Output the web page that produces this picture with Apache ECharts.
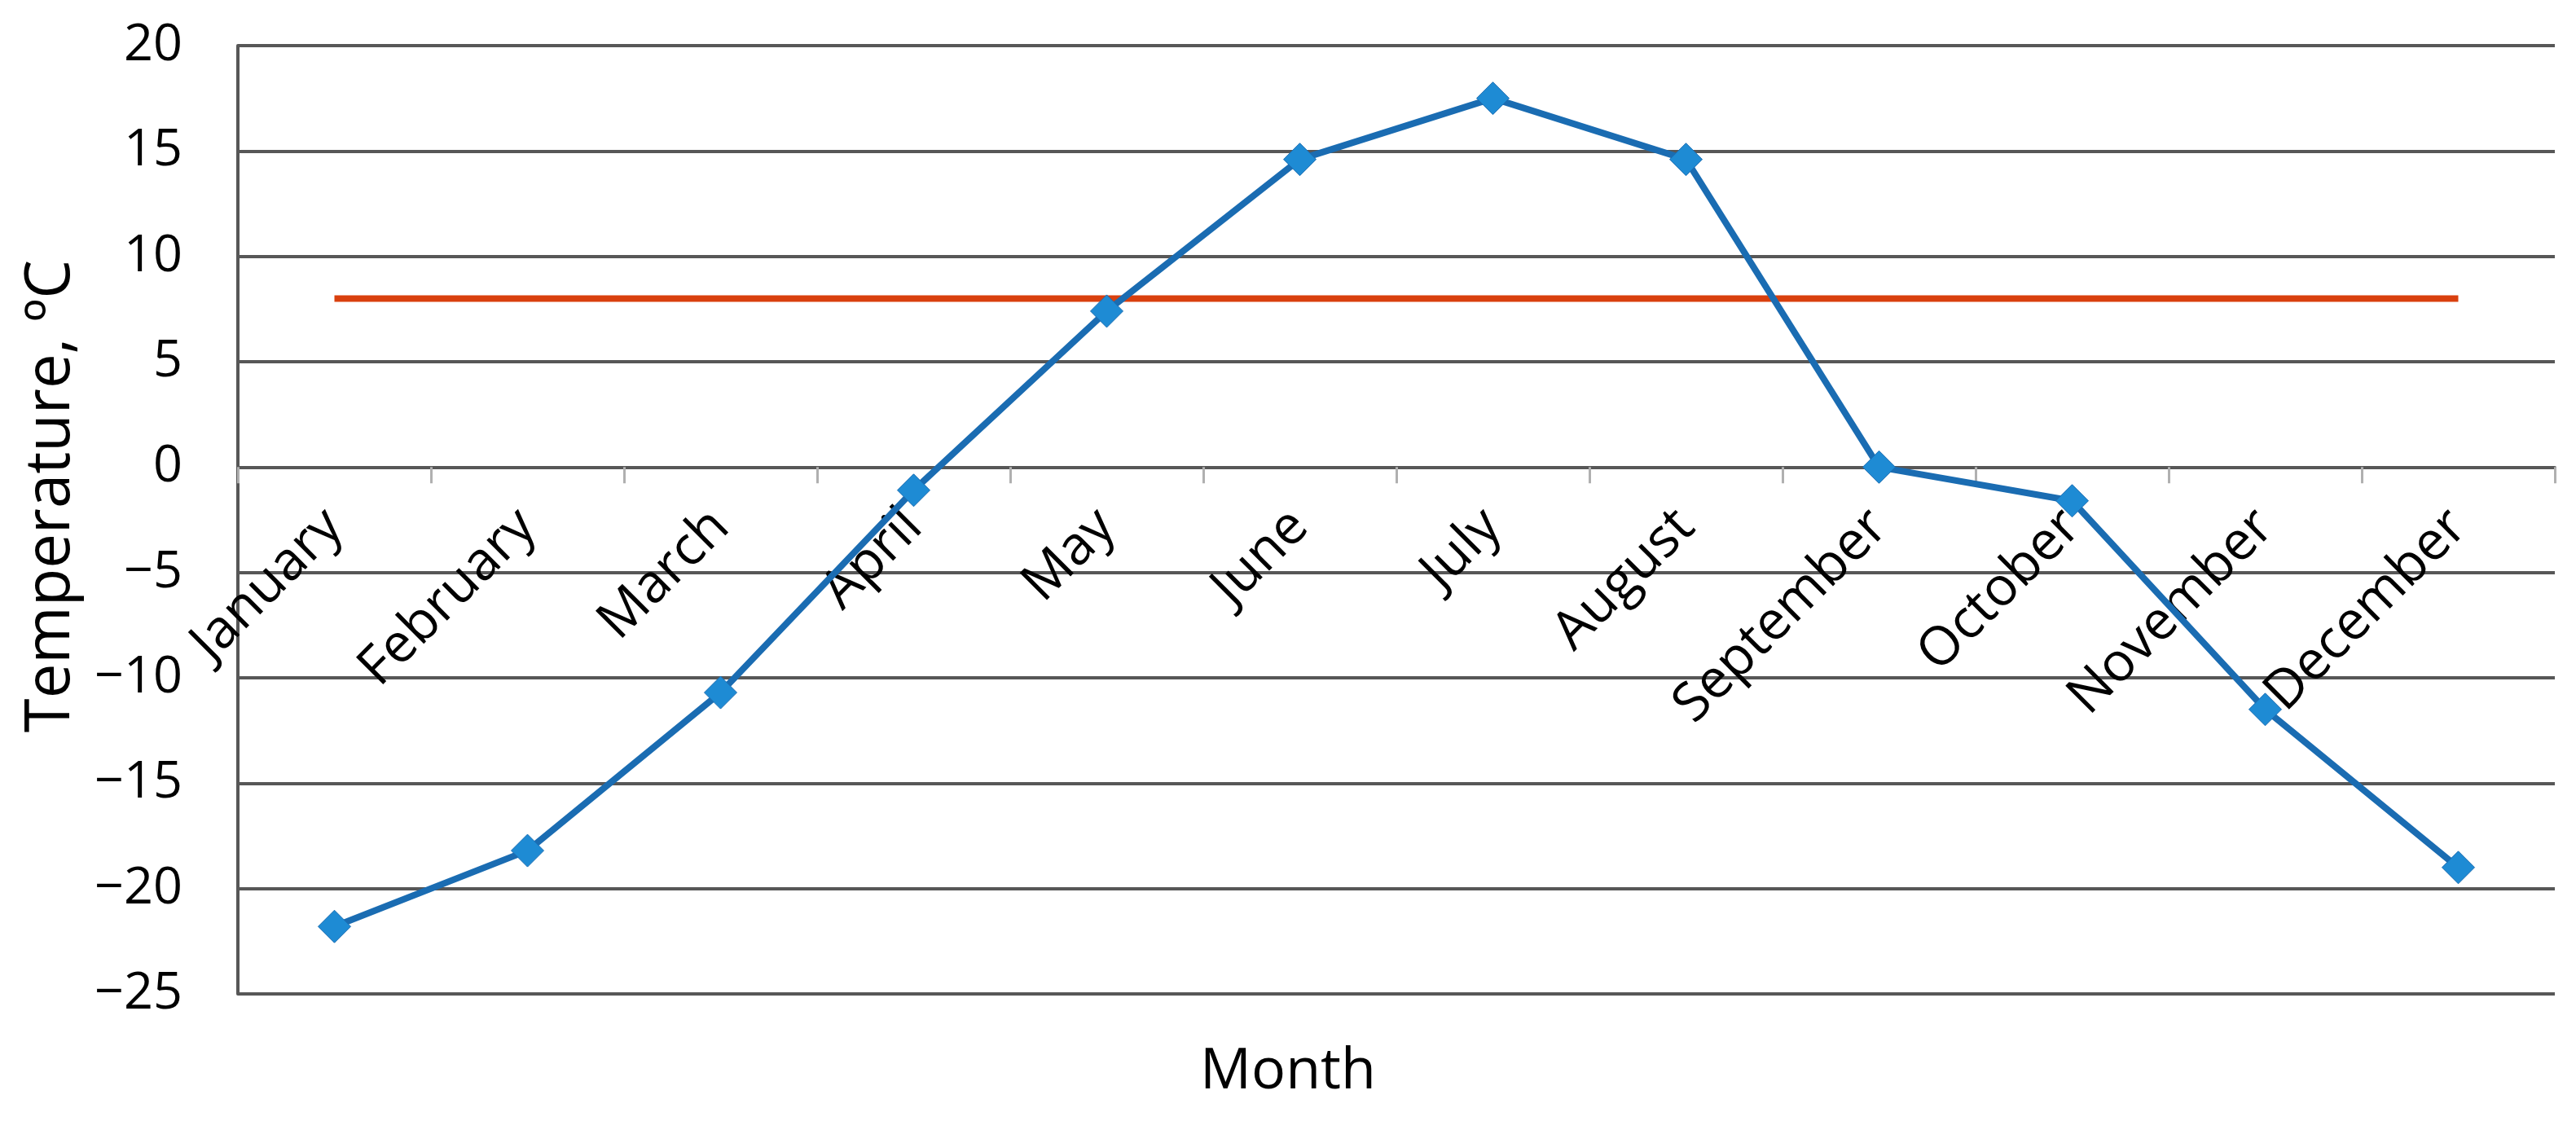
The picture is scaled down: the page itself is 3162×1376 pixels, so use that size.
<!DOCTYPE html>
<html>
<head>
<meta charset="utf-8">
<script src="https://cdn.jsdelivr.net/npm/echarts@6/dist/echarts.min.js"></script>
<style>
    html, body { margin: 0; padding: 0; background: #fff; }
    #chart { width: 3162px; height: 1376px; }
</style>
</head>
<body>
<div id="chart"></div>
<script>
const months = ['January', 'February', 'March', 'April', 'May', 'June', 'July', 'August', 'September', 'October', 'November', 'December']
const temperature = [-21.8, -18.2, -10.7, -1.1, 7.4, 14.6, 17.5, 14.6, 0, -1.6, -11.5, -19.0]
const threshold = [8, 8, 8, 8, 8, 8, 8, 8, 8, 8, 8, 8]
const yTicks = { min: -25, max: 20, interval: 5 }

const font = 'Open Sans'
const gridColor = '#575757'
const gridTop = 56
const gridBottom = 156
const plotHeight = 1376 - gridTop - gridBottom
// x axis sits on the zero line, labels go with it
const zeroOffset = -plotHeight * (0 - yTicks.min) / (yTicks.max - yTicks.min)

let option = {
    animation: false,
    backgroundColor: '#fff',
    title: {
        text: 'Month',
        left: 'center',
        top: 1276,
        textStyle: { fontFamily: font, fontSize: 70, fontWeight: 'normal', color: '#000' }
    },
    grid: {
        left: 292,
        right: 26,
        top: gridTop,
        bottom: gridBottom,
        containLabel: false,
        outerBoundsMode: 'none'
    },
    xAxis: {
        type: 'category',
        data: months,
        boundaryGap: true,
        offset: zeroOffset,
        axisLine: {
            show: true,
            onZero: false,
            lineStyle: { color: gridColor, width: 4 }
        },
        axisTick: {
            show: true,
            length: 20,
            lineStyle: { color: '#b0b0b0', width: 3 }
        },
        axisLabel: {
            interval: 0,
            rotate: 45,
            margin: 63,
            verticalAlign: 'middle',
            padding: [30, 0, 0, 0],
            fontFamily: font,
            fontSize: 66,
            color: '#000'
        },
        splitLine: { show: false }
    },
    yAxis: {
        type: 'value',
        min: yTicks.min,
        max: yTicks.max,
        interval: yTicks.interval,
        name: 'Temperature, ºC',
        nameLocation: 'middle',
        nameRotate: 90,
        nameGap: 191,
        nameTextStyle: {
            fontFamily: font,
            fontSize: 76,
            color: '#000',
            padding: [0, 0, 0, 58]
        },
        axisLine: {
            show: true,
            lineStyle: { color: gridColor, width: 4 }
        },
        axisTick: { show: false },
        axisLabel: {
            margin: 68,
            fontFamily: font,
            fontSize: 63,
            color: '#000',
            formatter: function(v) {
                return String(v).replace('-', '\u2212')
            }
        },
        splitLine: {
            show: true,
            lineStyle: { color: gridColor, width: 4 }
        }
    },
    series: [
        {
            name: 'Threshold',
            type: 'line',
            data: threshold,
            symbol: 'none',
            lineStyle: { color: '#d9400e', width: 8 },
            z: 2
        },
        {
            name: 'Temperature',
            type: 'line',
            data: temperature,
            symbol: 'diamond',
            symbolSize: 40,
            lineStyle: { color: '#1a6cb2', width: 8 },
            itemStyle: { color: '#1e8bd4', borderColor: '#1a6cb2', borderWidth: 1 },
            z: 3
        }
    ]
}

var myChart = echarts.init(document.getElementById('chart'))
myChart.setOption(option)
</script>
</body>
</html>
